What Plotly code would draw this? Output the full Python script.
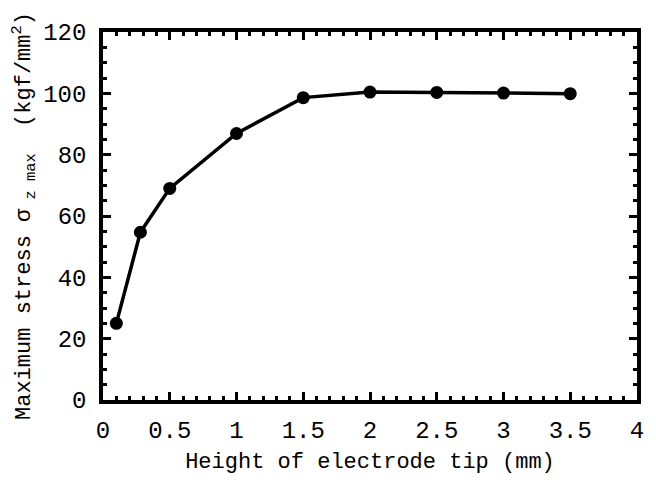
import plotly.graph_objects as go

height_mm = [0.1, 0.28, 0.5, 1.0, 1.5, 2.0, 2.5, 3.0, 3.5]
max_stress = [25.0, 54.7, 69.0, 86.9, 98.6, 100.4, 100.3, 100.1, 99.9]

x_tickvals = [0, 0.5, 1, 1.5, 2, 2.5, 3, 3.5, 4]
x_ticktext = ["0", "0.5", "1", "1.5", "2", "2.5", "3", "3.5", "4"]
y_tickvals = [0, 20, 40, 60, 80, 100, 120]
y_ticktext = ["0", "20", "40", "60", "80", "100", "120"]

FONT = "Liberation Mono"

fig = go.Figure()
fig.add_trace(go.Scatter(
    x=height_mm, y=max_stress, mode="lines+markers",
    line=dict(color="black", width=3.5),
    marker=dict(color="black", size=13),
    showlegend=False,
))

axis_common = dict(
    showline=True, linecolor="black", linewidth=3.5, mirror="allticks",
    ticks="inside", ticklen=8, tickwidth=3, tickcolor="black",
    showgrid=False, zeroline=False,
    tickfont=dict(family=FONT, size=24, color="black"),
)

fig.update_xaxes(
    range=[0, 4], tickvals=x_tickvals, ticktext=x_ticktext,
    minor=dict(dtick=0.1, ticks="inside", ticklen=4, tickwidth=3, tickcolor="black"),
    title=dict(text="Height of electrode tip (mm)", font=dict(family=FONT, size=22, color="black"), standoff=10),
    ticklabelstandoff=5,
    **axis_common,
)
fig.update_yaxes(
    range=[0, 120], tickvals=y_tickvals, ticktext=y_ticktext,
    minor=dict(dtick=5, ticks="inside", ticklen=4, tickwidth=3, tickcolor="black"),
    title=dict(text="Maximum stress σ<sub> z max</sub>  (kgf/mm<sup>2</sup>)",
               font=dict(family=FONT, size=22, color="black"), standoff=8),
    ticklabelstandoff=8,
    **axis_common,
)

fig.update_layout(
    width=648, height=474,
    margin=dict(l=94, r=16, t=19, b=79),
    paper_bgcolor="white", plot_bgcolor="white",
)

fig.write_html("out.html")
